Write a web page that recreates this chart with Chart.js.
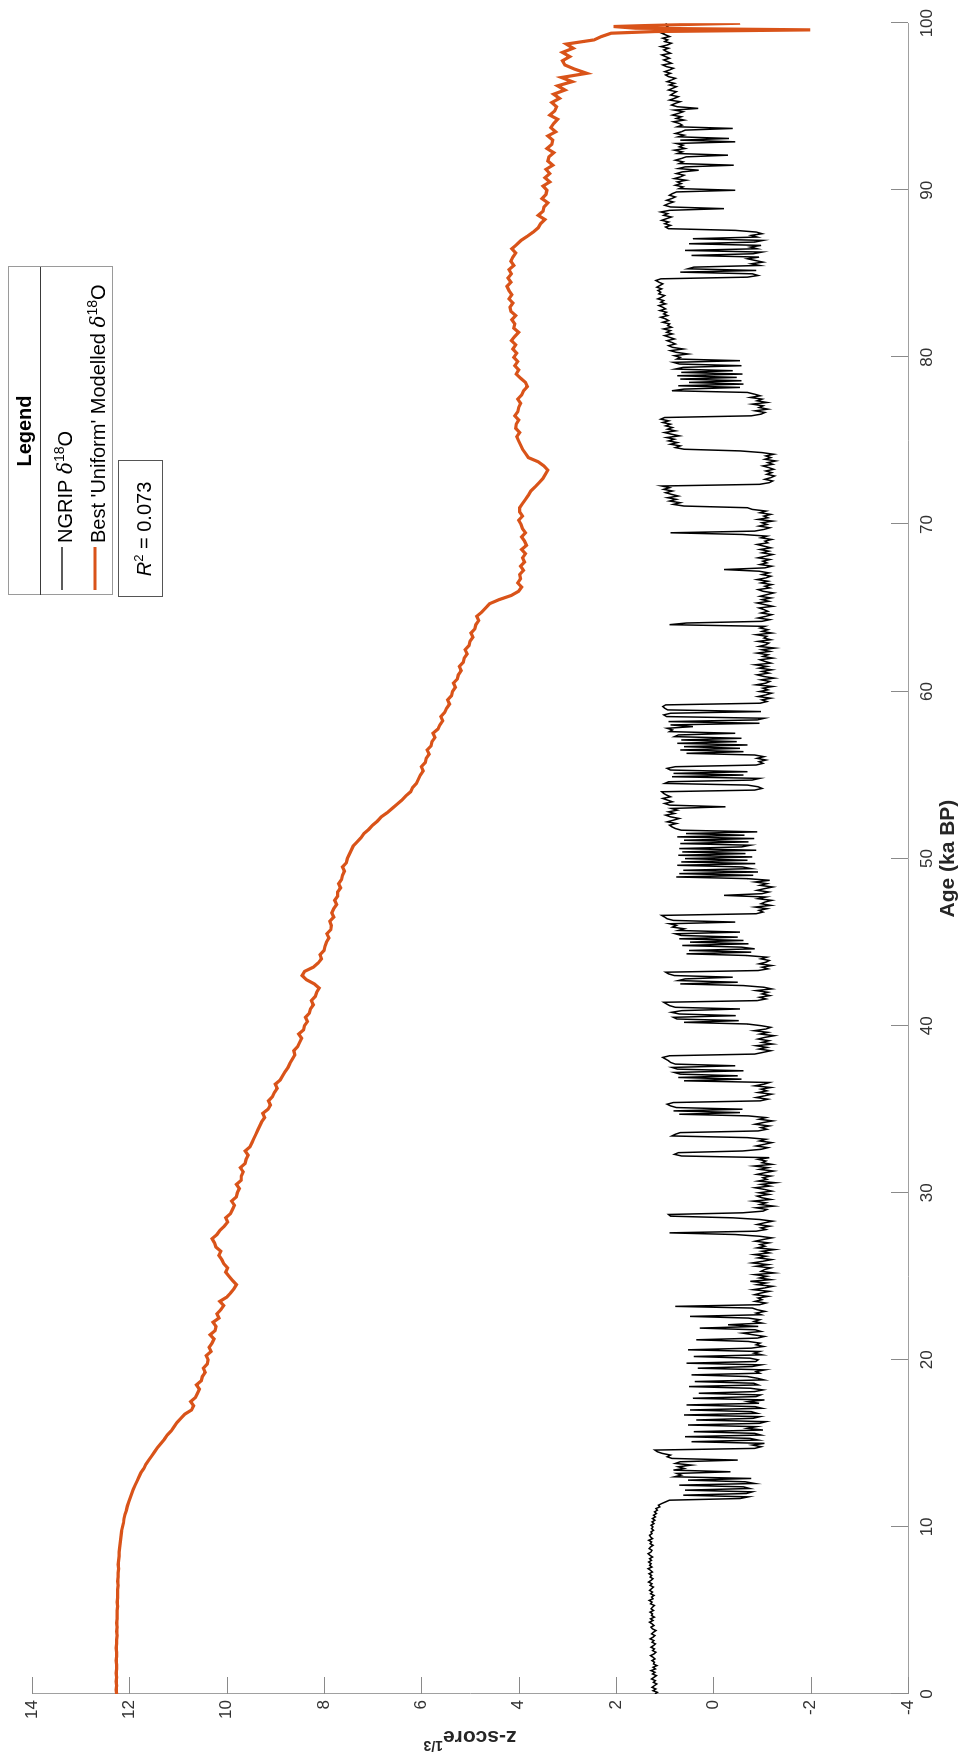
<!DOCTYPE html>
<html>
<head>
<meta charset="utf-8">
<script src="https://cdn.jsdelivr.net/npm/chart.js@4.4.0/dist/chart.umd.min.js"></script>
<style>
  html, body { margin: 0; padding: 0; background: #fff; }
  body { width: 961px; height: 1763px; overflow: hidden; position: relative; }
  /* plot is laid out landscape, then turned a quarter turn */
  #wrap { position: absolute; left: 0; top: 0; width: 1763px; height: 961px;
          transform-origin: 0 0; transform: translate(0, 1763px) rotate(-90deg); }
</style>
</head>
<body>
<div id="wrap"><canvas id="myChart" width="1763" height="961"></canvas></div>
<script>
// NGRIP d18O, z-score^(1/3), every 0.1 ka from 0 to 100 ka BP (one row per ka)
var ngripStep = 0.1;
var ngrip = [
  1.20, 1.15, 1.24, 1.18, 1.26, 1.21, 1.16, 1.23, 1.19, 1.27,
  1.22, 1.17, 1.25, 1.20, 1.28, 1.19, 1.24, 1.16, 1.23, 1.21,
  1.26, 1.20, 1.24, 1.29, 1.22, 1.18, 1.25, 1.21, 1.28, 1.23,
  1.19, 1.26, 1.22, 1.30, 1.24, 1.20, 1.27, 1.23, 1.18, 1.25,
  1.28, 1.22, 1.26, 1.31, 1.24, 1.29, 1.21, 1.27, 1.25, 1.30,
  1.23, 1.28, 1.25, 1.21, 1.29, 1.26, 1.32, 1.24, 1.27, 1.22,
  1.29, 1.25, 1.31, 1.27, 1.23, 1.30, 1.26, 1.33, 1.28, 1.24,
  1.30, 1.27, 1.32, 1.25, 1.29, 1.34, 1.26, 1.31, 1.28, 1.33,
  1.27, 1.31, 1.25, 1.30, 1.34, 1.28, 1.26, 1.32, 1.29, 1.24,
  1.30, 1.27, 1.33, 1.25, 1.29, 1.31, 1.26, 1.28, 1.23, 1.27,
  1.24, 1.28, 1.22, 1.26, 1.20, 1.25, 1.19, 1.23, 1.17, 1.21,
  1.15, 1.18, 1.10, 1.13, 1.06, 0.98, 0.90, -0.55, -0.72, 0.62,
  -0.68, -0.80, 0.58, -0.75, -0.62, 0.70, -0.85, -0.66, 0.52, -0.78,
  0.80, 0.66, 0.75, -0.35, 0.82, 0.60, 0.72, 0.45, 0.78, 0.68,
  -0.50, 0.85, 0.95, 0.88, 1.05, 1.15, 1.20, -0.85, -0.98, -0.80,
  -1.05, 0.45, -0.92, -0.75, 0.58, -0.98, -0.85, 0.40, -1.02, -0.70,
  -0.88, 0.52, -0.95, -1.08, 0.35, -0.82, -0.96, 0.60, -0.90, -0.78,
  0.48, -1.00, -0.86, 0.55, -0.94, -0.72, -1.05, 0.42, -0.88, -0.97,
  0.30, -0.85, -1.02, -0.76, 0.50, -0.92, -0.83, 0.38, -1.04, -0.90,
  -0.70, 0.45, -0.95, -0.88, -1.06, 0.32, -0.80, -0.98, 0.55, -0.87,
  -0.92, -0.75, 0.40, -1.00, -0.84, -0.95, 0.52, -0.78, -1.03, -0.88,
  -0.96, -0.72, 0.35, -0.90, -1.05, -0.82, -0.60, -0.98, -0.86, 0.28,
  -0.92, -0.30, -1.00, -0.84, -0.95, -0.72, 0.48, -0.98, -0.88, -1.06,
  -0.90, -0.80, 0.78, -0.95, -1.08, -0.86, -1.00, -0.92, -1.12, -0.85,
  -0.98, -1.15, -0.82, -1.05, -1.22, -0.90, -1.08, -0.76, -1.18, -0.95,
  -1.10, -0.85, -1.25, -0.98, -1.05, -1.18, -0.88, -1.12, -0.80, -1.02,
  -1.20, -0.92, -1.08, -0.84, -1.15, -1.00, -1.26, -0.90, -1.06, -0.96,
  -1.14, -0.86, -1.02, -1.20, -0.94, -0.45, 0.90, -0.88, -1.08, -0.98,
  -1.16, -0.90, -1.05, -1.22, -0.95, -0.40, 0.88, 0.92, -0.60, -1.02,
  -1.10, -0.88, -1.24, -0.96, -1.08, -0.82, -1.18, -1.00, -0.90, -1.14,
  -0.94, -1.20, -1.05, -0.86, -1.16, -0.98, -1.28, -0.92, -1.10, -1.02,
  -1.18, -0.90, -1.06, -1.24, -0.95, -1.12, -0.84, -1.20, -1.00, -1.08,
  -0.92, -1.15, 0.65, 0.80, 0.72, -0.60, -0.98, -1.12, -0.88, -1.05,
  -1.20, -0.95, -1.08, -0.70, 0.85, 0.78, 0.68, -0.92, -1.10, -0.98,
  -1.15, -0.86, -1.02, -1.22, -0.94, -1.08, -0.72, 0.70, -0.55, 0.82,
  -0.60, 0.76, 0.88, 0.95, 0.82, -0.96, -1.12, -0.88, -1.05, -1.20,
  -0.92, -1.10, -0.98, -1.18, -0.85, -1.04, -1.15, 0.60, -0.58, 0.72,
  -0.50, 0.68, 0.80, -0.62, 0.74, 0.85, -0.45, 0.78, 0.88, 0.92,
  0.98, 1.04, 0.90, -0.85, -1.02, -1.18, -0.94, -1.10, -0.88, -1.22,
  -1.00, -1.14, -0.92, -1.06, -1.25, -0.96, -1.12, -0.84, -1.08, -1.18,
  -0.98, -0.70, 0.60, -0.52, 0.75, 0.82, -0.46, 0.70, 0.86, 0.65,
  -0.55, 0.78, 0.90, 0.96, 1.02, -0.90, -1.08, -0.95, -1.16, -1.00,
  -1.12, -0.88, -1.20, -1.04, -0.62, 0.68, -0.50, 0.72, 0.58, -0.40,
  0.80, 0.92, 0.98, -0.92, -1.12, -1.00, -1.20, -0.94, -1.08, -1.15,
  -0.98, -1.10, -0.68, 0.55, -0.78, 0.50, -0.85, -0.58, 0.64, -0.72,
  0.48, -0.62, 0.70, -0.50, 0.66, 0.78, -0.55, 0.72, 0.60, 0.84,
  0.76, 0.90, -0.45, 0.82, 0.95, 1.00, 1.06, -0.88, -1.02, -0.94,
  -1.10, -0.86, -1.18, -0.98, -1.06, -1.20, -0.92, -1.08, -0.22, -1.00,
  -1.14, -0.90, -1.05, -1.22, -0.96, -1.10, -0.86, -1.16, -0.70, 0.76,
  -0.82, 0.70, -0.92, 0.62, -0.78, -0.60, 0.74, -0.86, 0.66, -0.70,
  0.58, -0.80, 0.72, -0.66, 0.64, -0.88, 0.70, -0.58, -0.76, 0.68,
  -0.72, 0.60, -0.84, 0.74, -0.64, 0.56, -0.90, 0.66, 0.78, 0.85,
  0.90, 0.76, 0.95, 0.82, 0.70, 0.88, 0.98, 0.80, 0.92, 0.74,
  0.86, -0.25, 0.90, 1.00, 0.84, 0.94, 1.04, 0.88, 0.96, 1.02,
  1.06, -0.85, -1.00, -0.92, -0.70, 1.00, 0.92, -0.80, -0.95, 0.85,
  -0.62, 0.82, -0.70, 0.88, 0.95, 0.78, -0.88, -1.02, -0.94, -1.08,
  -0.90, -1.04, -0.85, 0.55, -0.62, 0.68, -0.55, 0.60, -0.70, 0.74,
  -0.48, 0.66, -0.58, 0.80, 0.72, -0.45, 0.90, 0.84, 0.95, 0.42,
  0.88, -0.95, 0.92, -0.90, -1.05, 0.96, 1.02, 0.88, -0.98, 0.94,
  1.00, 1.04, 0.98, -0.96, -1.10, -1.00, -1.18, -0.92, -1.08, -1.20,
  -0.95, -1.12, -1.02, -1.22, -0.88, -1.08, -1.16, -0.98, -1.25, -1.04,
  -0.90, -1.14, -1.00, -1.20, -0.94, -1.10, -0.86, -1.18, -1.06, -0.96,
  -1.22, -1.02, -1.12, -0.90, -1.16, -1.00, -1.26, -0.94, -1.08, -1.14,
  -0.92, -1.18, -1.04, -1.10, -0.88, -1.20, -1.00, -1.12, -0.96, -1.06,
  0.90, 0.55, -1.00, -1.16, -0.92, -1.08, -1.20, -0.98, -1.12, -1.04,
  -0.94, -1.22, -1.06, -0.90, -1.14, -1.00, -1.18, -0.96, -1.10, -1.24,
  -1.02, -0.92, -1.16, -1.06, -1.20, -0.98, -1.12, -0.90, -1.08, -1.18,
  -1.00, -1.14, -0.94, -0.22, -1.06, -1.20, -0.96, -1.10, -1.02, -1.16,
  -0.92, -1.08, -1.22, -1.00, -1.14, -0.96, -1.18, -1.04, -0.90, -1.12,
  -1.06, -1.20, -0.98, -1.10, -0.60, 0.88, -0.85, -1.04, -1.16, -0.94,
  -1.10, -1.00, -1.22, -0.92, -1.12, -1.04, -1.18, -0.96, -1.08, -0.80,
  -0.70, 0.60, 0.82, 0.68, 0.90, 0.76, 0.94, 0.72, 0.86, 0.98,
  0.84, 1.02, 0.90, 1.06, -0.95, -1.15, -1.22, -1.06, -1.18, -1.26,
  -1.10, -1.20, -1.08, -1.24, -1.14, -1.02, -1.22, -1.12, -1.28, -1.06,
  -1.18, -1.08, -1.24, -1.00, -0.55, 0.60, 0.78, 0.68, 0.88, 0.74,
  0.92, 0.80, 0.96, 0.70, 0.86, 1.00, 0.78, 0.94, 0.84, 0.98,
  0.88, 1.04, 0.92, 1.08, 1.00, -0.78, -0.98, -1.06, -0.86, -1.12,
  -0.94, -1.02, -0.80, -1.10, -0.90, -1.00, -0.76, -0.96, -0.84, -0.70,
  0.85, 0.60, -0.55, 0.72, -0.62, 0.50, -0.58, 0.68, -0.48, 0.74,
  -0.60, 0.66, -0.40, 0.78, 0.62, -0.58, 0.70, 0.82, -0.55, 0.75,
  0.68, 0.80, 0.52, 0.76, 0.88, 0.62, 0.84, 0.92, 0.78, 0.86,
  0.95, 0.80, 0.90, 1.00, 0.84, 0.96, 0.88, 1.02, 0.86, 0.94,
  0.90, 1.04, 0.92, 0.98, 1.08, 0.94, 1.02, 0.96, 1.10, 0.98,
  1.04, 1.12, 0.98, 1.08, 1.02, 1.14, 1.06, 1.00, 1.12, 1.08,
  1.14, 1.06, 1.16, 1.10, 1.04, 1.12, 1.18, 1.08, -0.70, -0.92,
  -0.80, 0.68, -0.88, 0.52, 0.40, -0.95, -0.78, -1.02, -0.86, -0.70,
  -0.94, 0.45, -0.82, -1.00, 0.58, -0.90, -0.76, -0.98, 0.50, -0.85,
  -1.02, 0.42, -0.90, -0.78, -1.00, -0.88, -0.45, 0.92, 0.98, 0.88,
  1.00, 0.92, 1.06, 0.96, 0.86, 1.02, 0.94, 1.08, 0.90, -0.22,
  0.88, 1.00, 0.92, 0.82, 0.96, 0.86, 0.78, 0.90, 0.84, 0.76,
  -0.45, 0.70, 0.62, 0.78, 0.66, 0.74, 0.56, 0.80, 0.68, 0.60,
  0.76, 0.64, 0.30, 0.72, 0.58, -0.42, 0.70, 0.62, 0.78, 0.66,
  0.56, -0.30, 0.74, 0.64, 0.80, 0.58, 0.70, 0.62, 0.76, -0.45,
  0.68, -0.32, 0.72, 0.60, 0.78, 0.66, 0.58, -0.40, 0.74, 0.64,
  0.70, 0.82, 0.60, 0.76, 0.66, 0.84, 0.72, 0.62, 0.80, 0.31,
  0.74, 0.86, 0.78, 0.68, 0.90, 0.80, 0.72, 0.88, 0.82, 0.76,
  0.92, 0.84, 0.76, 0.90, 0.80, 0.95, 0.86, 0.78, 0.92, 0.98,
  0.88, 1.00, 0.90, 0.82, 0.96, 1.04, 0.86, 0.94, 1.02, 0.90,
  0.98, 1.06, 0.88, 0.96, 1.02, 0.92, 1.08, 0.94, 0.86, 1.00,
  0.94, 1.04, 0.90, 0.98, 1.06, 0.92, 0.96, 1.00, 0.94, 0.98,
  0.96
];

// best 'uniform' model, every 0.25 ka from 0 to 99 ka (one row per ka), then the last samples
var modelStep = 0.25;
var model = [
  12.26, 12.27, 12.26, 12.27,  12.26, 12.27, 12.26, 12.26,  12.27, 12.26, 12.26, 12.27,
  12.26, 12.26, 12.25, 12.26,  12.25, 12.26, 12.25, 12.25,  12.25, 12.24, 12.25, 12.24,
  12.24, 12.24, 12.23, 12.24,  12.23, 12.23, 12.22, 12.23,  12.22, 12.21, 12.21, 12.20,
  12.19, 12.18, 12.17, 12.16,  12.14, 12.12, 12.11, 12.09,  12.06, 12.04, 12.01, 11.98,
  11.95, 11.92, 11.88, 11.84,  11.80, 11.76, 11.70, 11.66,  11.60, 11.54, 11.48, 11.42,
  11.35, 11.28, 11.22, 11.14,  11.08, 11.02, 10.94, 10.86,  10.72, 10.68, 10.74, 10.64,
  10.60, 10.56, 10.62, 10.52,  10.50, 10.44, 10.48, 10.40,  10.38, 10.42, 10.32, 10.36,
  10.30, 10.26, 10.34, 10.24,  10.22, 10.28, 10.16, 10.20,  10.12, 10.06, 10.14, 10.00,
  9.92, 9.85, 9.80, 9.88,  9.95, 10.02, 9.98, 10.06,  10.10, 10.16, 10.12, 10.22,
  10.25, 10.30, 10.20, 10.14,  10.05, 9.98, 10.02, 9.92,  9.88, 9.84, 9.90, 9.80,
  9.78, 9.74, 9.80, 9.70,  9.70, 9.66, 9.72, 9.62,  9.60, 9.56, 9.62, 9.52,
  9.48, 9.44, 9.40, 9.36,  9.32, 9.28, 9.22, 9.26,  9.15, 9.10, 9.14, 9.06,
  9.02, 8.96, 9.00, 8.90,  8.85, 8.80, 8.74, 8.70,  8.65, 8.60, 8.62, 8.54,
  8.50, 8.46, 8.52, 8.42,  8.40, 8.34, 8.38, 8.30,  8.28, 8.22, 8.26, 8.18,
  8.15, 8.10, 8.20, 8.36,  8.45, 8.40, 8.22, 8.12,  8.05, 8.08, 8.00, 7.98,
  7.95, 7.90, 7.94, 7.86,  7.85, 7.88, 7.80, 7.84,  7.80, 7.74, 7.78, 7.72,
  7.72, 7.66, 7.70, 7.64,  7.62, 7.58, 7.62, 7.54,  7.52, 7.48, 7.44, 7.40,
  7.32, 7.24, 7.18, 7.08,  7.00, 6.90, 6.82, 6.70,  6.60, 6.50, 6.40, 6.32,
  6.22, 6.18, 6.10, 6.06,  6.02, 5.96, 6.00, 5.92,  5.90, 5.84, 5.88, 5.80,
  5.78, 5.72, 5.76, 5.66,  5.62, 5.56, 5.60, 5.52,  5.48, 5.42, 5.46, 5.38,
  5.36, 5.30, 5.34, 5.26,  5.24, 5.18, 5.22, 5.14,  5.12, 5.06, 5.10, 5.02,
  5.00, 4.94, 4.98, 4.90,  4.88, 4.82, 4.86, 4.76,  4.68, 4.60, 4.40, 4.15,
  4.00, 3.94, 4.02, 3.96,  3.98, 3.90, 3.96, 3.88,  3.92, 3.86, 3.94, 3.84,
  3.88, 3.94, 3.86, 3.92,  3.95, 4.00, 3.92, 3.98,  3.98, 3.92, 3.86, 3.80,
  3.75, 3.66, 3.58, 3.50,  3.45, 3.40, 3.48, 3.60,  3.80, 3.86, 3.92, 3.96,
  4.00, 4.04, 3.98, 4.06,  4.05, 4.00, 4.08, 4.02,  4.00, 3.96, 4.02, 3.94,
  3.90, 3.82, 3.86, 3.96,  4.05, 4.00, 4.08, 4.02,  4.10, 4.04, 4.12, 4.06,
  4.15, 4.08, 4.00, 4.10,  4.08, 4.14, 4.06, 4.16,  4.18, 4.12, 4.20, 4.14,
  4.20, 4.24, 4.16, 4.22,  4.15, 4.20, 4.10, 4.16,  4.12, 4.06, 4.14, 4.04,
  3.95, 3.82, 3.70, 3.60,  3.55, 3.46, 3.60, 3.50,  3.48, 3.40, 3.52, 3.44,
  3.42, 3.50, 3.36, 3.46,  3.36, 3.44, 3.30, 3.40,  3.38, 3.28, 3.42, 3.32,
  3.30, 3.40, 3.24, 3.34,  3.28, 3.20, 3.36, 3.26,  3.22, 3.32, 3.16, 3.28,
  3.05, 3.20, 2.90, 3.12,  2.60, 2.85, 3.05, 3.10,  2.95, 3.10, 2.88, 3.02,
  2.45
];
var modelTailAge = [99.2, 99.4, 99.5, 99.6, 99.7, 99.8, 99.9, 100.0];
var modelTail = [2.30, 2.10, 1.20, -1.99, 1.60, 2.05, 0.90, -0.55];

var ageTicks = [0, 10, 20, 30, 40, 50, 60, 70, 80, 90, 100];
var zTicks = [-4, -2, 0, 2, 4, 6, 8, 10, 12, 14];

var orange = '#D95319';
var fontName = '"Liberation Sans", Arial, sans-serif';

var ngripPts = [];
for (var i = 0; i < ngrip.length; i++) {
  ngripPts.push({ x: +(i * ngripStep).toFixed(1), y: ngrip[i] });
}
var modelPts = [];
for (var j = 0; j < model.length; j++) {
  modelPts.push({ x: j * modelStep, y: model[j] });
}
for (var k = 0; k < modelTail.length; k++) {
  modelPts.push({ x: modelTailAge[k], y: modelTail[k] });
}

// draws a run of text pieces (some raised / italic) left to right from x
function richWidth(ctx, parts) {
  var w = 0;
  parts.forEach(function(p) { ctx.font = p.font; w += ctx.measureText(p.t).width; });
  return w;
}
function drawRich(ctx, parts, x, y) {
  parts.forEach(function(p) {
    ctx.font = p.font;
    ctx.fillText(p.t, x, y - (p.up || 0));
    x += ctx.measureText(p.t).width;
  });
}
function deltaParts(prefix, size) {
  return [
    { t: prefix, font: size + 'px ' + fontName },
    { t: '\u03B4', font: 'italic ' + size + 'px "DejaVu Serif", serif' },
    { t: '18', font: Math.round(size * 0.68) + 'px ' + fontName, up: 8 },
    { t: 'O', font: size + 'px ' + fontName }
  ];
}

var decor = {
  id: 'decor',
  afterDraw: function(chart) {
    var ctx = chart.ctx, area = chart.chartArea;
    var xs = chart.scales.x, ys = chart.scales.y;
    ctx.save();

    // inward tick marks
    ctx.strokeStyle = '#8a8a8a';
    ctx.lineWidth = 1;
    ctx.beginPath();
    ageTicks.forEach(function(a) {
      var p = Math.round(xs.getPixelForValue(a)) + 0.5;
      ctx.moveTo(p, area.bottom);
      ctx.lineTo(p, area.bottom - 17);
    });
    zTicks.forEach(function(z) {
      var p = Math.round(ys.getPixelForValue(z)) + 0.5;
      ctx.moveTo(area.left, p);
      ctx.lineTo(area.left + 17, p);
    });
    ctx.stroke();

    // axis titles
    ctx.fillStyle = '#262626';
    ctx.textBaseline = 'alphabetic';
    var ageTitle = [{ t: 'Age (ka BP)', font: 'bold 21px ' + fontName }];
    drawRich(ctx, ageTitle, (area.left + area.right) / 2 - richWidth(ctx, ageTitle) / 2, 954);

    var zTitle = [
      { t: 'z-score', font: 'bold 21px ' + fontName },
      { t: '1/3', font: 'bold 14px ' + fontName, up: 10 }
    ];
    ctx.save();
    ctx.translate(32, (area.top + area.bottom) / 2);
    ctx.rotate(-Math.PI / 2);
    drawRich(ctx, zTitle, -richWidth(ctx, zTitle) / 2, 0);
    ctx.restore();

    // legend box
    var lx = 1168, ly = 8, lw = 328, lh = 104;
    ctx.fillStyle = '#fff';
    ctx.fillRect(lx, ly, lw, lh);
    ctx.strokeStyle = '#9a9a9a';
    ctx.strokeRect(lx + 0.5, ly + 0.5, lw, lh);
    ctx.strokeStyle = '#3a3a3a';
    ctx.beginPath();
    ctx.moveTo(lx, ly + 32.5);
    ctx.lineTo(lx + lw, ly + 32.5);
    ctx.stroke();

    ctx.fillStyle = '#000';
    ctx.font = 'bold 20px ' + fontName;
    ctx.textAlign = 'center';
    ctx.fillText('Legend', lx + lw / 2, ly + 23);
    ctx.textAlign = 'left';

    ctx.strokeStyle = '#262626';
    ctx.lineWidth = 1.3;
    ctx.beginPath();
    ctx.moveTo(1173, 62);
    ctx.lineTo(1216, 62);
    ctx.stroke();
    ctx.strokeStyle = orange;
    ctx.lineWidth = 3;
    ctx.beginPath();
    ctx.moveTo(1173, 95);
    ctx.lineTo(1216, 95);
    ctx.stroke();

    ctx.fillStyle = '#000';
    drawRich(ctx, deltaParts('NGRIP ', 20), 1220, 72);
    drawRich(ctx, deltaParts("Best 'Uniform' Modelled ", 20), 1220, 105);

    // fit statistic box
    var bx = 1166, by = 118, bw = 136, bh = 44;
    ctx.fillStyle = '#fff';
    ctx.fillRect(bx, by, bw, bh);
    ctx.strokeStyle = '#555';
    ctx.lineWidth = 1;
    ctx.strokeRect(bx + 0.5, by + 0.5, bw, bh);
    var r2 = [
      { t: 'R', font: 'italic 20px ' + fontName },
      { t: '2', font: '13px ' + fontName, up: 8 },
      { t: ' = 0.073', font: '20px ' + fontName }
    ];
    ctx.fillStyle = '#000';
    drawRich(ctx, r2, bx + bw / 2 - richWidth(ctx, r2) / 2, 151);

    ctx.restore();
  }
};

var config = {
  type: 'line',
  data: {
    datasets: [
      {
        label: 'NGRIP \u03B418O',
        data: ngripPts,
        borderColor: '#000',
        borderWidth: 1.5,
        pointRadius: 0,
        tension: 0,
        order: 2
      },
      {
        label: "Best 'Uniform' Modelled \u03B418O",
        data: modelPts,
        borderColor: orange,
        borderWidth: 3.2,
        pointRadius: 0,
        tension: 0,
        order: 1
      }
    ]
  },
  options: {
    responsive: false,
    animation: false,
    devicePixelRatio: 1,
    layout: { padding: { left: 0, right: 20, top: 32, bottom: 0 } },
    plugins: { legend: { display: false }, tooltip: { enabled: false } },
    scales: {
      x: {
        type: 'linear',
        min: 0,
        max: 100,
        afterBuildTicks: function(scale) {
          scale.ticks = ageTicks.map(function(v) { return { value: v }; });
        },
        afterFit: function(scale) { scale.height = 53; },
        grid: { display: false, drawTicks: false },
        border: { display: true, color: '#a0a0a0', width: 1 },
        ticks: { font: { family: fontName, size: 17 }, color: '#333', padding: 9, maxRotation: 0 }
      },
      y: {
        type: 'linear',
        min: -4,
        max: 14,
        afterBuildTicks: function(scale) {
          scale.ticks = zTicks.map(function(v) { return { value: v }; });
        },
        afterFit: function(scale) { scale.width = 69; },
        grid: { display: false, drawTicks: false },
        border: { display: true, color: '#a0a0a0', width: 1 },
        ticks: { font: { family: fontName, size: 17 }, color: '#333', padding: 6 }
      }
    }
  },
  plugins: [decor]
};

var myChart = new Chart(document.getElementById('myChart'), config);
</script>
</body>
</html>
